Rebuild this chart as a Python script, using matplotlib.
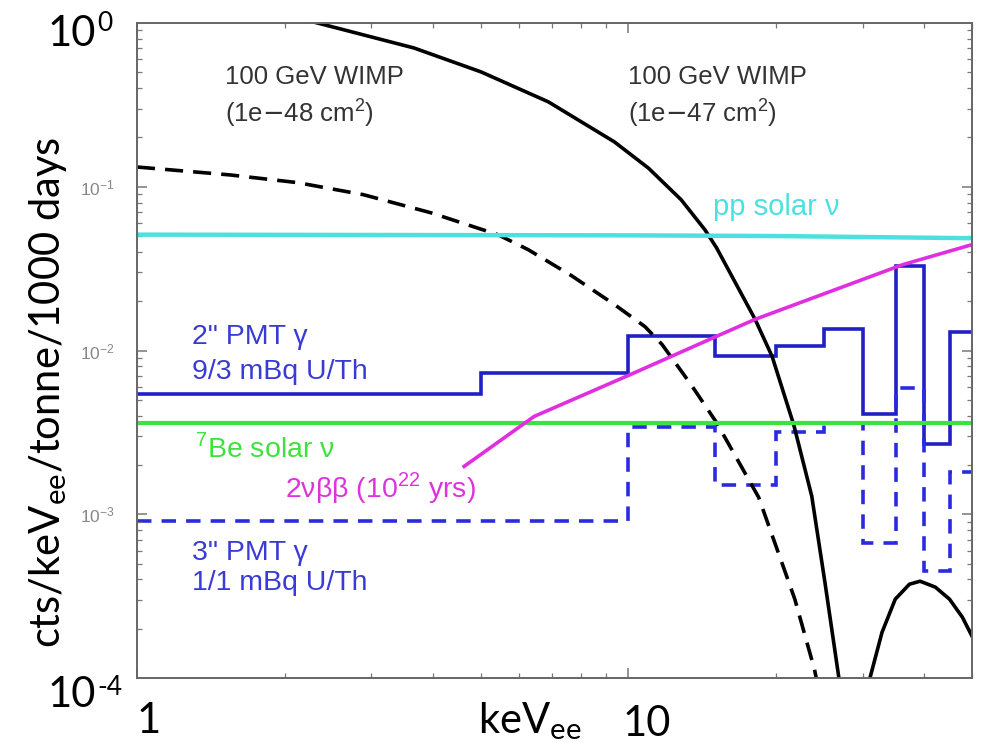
import matplotlib
matplotlib.use("Agg")
import matplotlib.pyplot as plt
from matplotlib.ticker import LogLocator, NullFormatter, FixedLocator, FixedFormatter

# PMT gamma backgrounds, 5 keV bins
bin_edges = [1, 5, 10, 15, 20, 25, 30, 35, 40, 45, 50]
pmt2_rate = [0.0054, 0.0073, 0.0122, 0.0092, 0.0107, 0.0136, 0.0041, 0.033, 0.0027, 0.0129]
pmt3_rate = [0.00091, 0.00091, 0.0034, 0.0015, 0.0032, 0.0036, 0.00067, 0.0059, 0.00045, 0.0018]

# 100 GeV WIMP, 1e-47 cm2 (first lobe and second lobe of the form factor)
wimp47_e = [2.0, 2.33, 3.66, 5.01, 6.87, 9.36, 10.98, 12.8, 14.3, 15.1, 18.1, 19.6, 21.7, 23.6, 25.1, 26.8, 27.3]
wimp47_r = [1.12, 1.0, 0.704, 0.503, 0.330, 0.188, 0.130, 0.0833, 0.0547, 0.0425, 0.0155, 0.0092, 0.0035, 0.00129, 0.000385, 0.0001, 0.00007]
wimp47b_e = [30.6, 31.0, 32.8, 34.9, 37.3, 39.2, 42.1, 45.0, 47.8, 50.0]
wimp47b_r = [0.00007, 0.0001, 0.00019, 0.000303, 0.000374, 0.00039, 0.000359, 0.000303, 0.000235, 0.00018]

# 100 GeV WIMP, 1e-48 cm2
wimp48_e = [1.0, 1.55, 2.12, 2.89, 3.96, 5.43, 6.25, 7.65, 9.36, 10.8, 11.7, 13.4, 15.1, 18.4, 21.8, 23.9, 24.6]
wimp48_r = [0.132, 0.118, 0.106, 0.0894, 0.0694, 0.0509, 0.0413, 0.0287, 0.0191, 0.0140, 0.0109, 0.0062, 0.00364, 0.00127, 0.000303, 0.000113, 0.000074]

# solar neutrinos
pp_e = [1, 10, 20, 50]
pp_r = [0.051, 0.0505, 0.050, 0.0485]
be7_e = [1, 50]
be7_r = [0.0036, 0.0036]

# 2vbb, T1/2 = 1e22 yr
bb_e = [4.63, 6.43, 10.1, 15.1, 18.1, 36.1, 50.0]
bb_r = [0.00196, 0.00396, 0.00714, 0.0122, 0.0155, 0.0334, 0.0443]

W, H, DPI = 988, 749, 100
fig = plt.figure(figsize=(W / DPI, H / DPI), dpi=DPI)
ax = fig.add_axes([137 / W, 1 - 678 / H, 835 / W, 655 / H])

blue = '#2020c4'
lw = 2.6
ax.plot(wimp47_e, wimp47_r, color='black', lw=lw)
ax.plot(wimp47b_e, wimp47b_r, color='black', lw=lw)
ax.plot(wimp48_e, wimp48_r, color='black', lw=lw, dashes=(5, 2.8))
ax.plot(pp_e, pp_r, color='#4ee0e0', lw=3.2)
ax.plot(be7_e, be7_r, color='#3ee23e', lw=3.0)
ax.stairs(pmt2_rate, bin_edges, color=blue, lw=lw, baseline=None)
ax.stairs(pmt3_rate, bin_edges, color='#2a2ae0', lw=lw, baseline=None, linestyle=(0, (4, 2.8)))
ax.plot(bb_e, bb_r, color='#e02ee0', lw=2.6)

ax.set_xscale('log')
ax.set_yscale('log')
ax.set_xlim(1, 50)
ax.set_ylim(1e-4, 1)

# small tick labels on y only; big labels drawn separately
ax.yaxis.set_major_locator(FixedLocator([1e-3, 1e-2, 1e-1]))
ax.yaxis.set_major_formatter(FixedFormatter([r'$\mathregular{10^{-3}}$', r'$\mathregular{10^{-2}}$',
                                             r'$\mathregular{10^{-1}}$']))
ax.yaxis.set_minor_locator(LogLocator(base=10, subs=range(2, 10)))
ax.yaxis.set_minor_formatter(NullFormatter())
ax.xaxis.set_major_locator(FixedLocator([1, 10]))
ax.xaxis.set_major_formatter(NullFormatter())
ax.xaxis.set_minor_locator(LogLocator(base=10, subs=range(2, 10)))
ax.xaxis.set_minor_formatter(NullFormatter())

ax.tick_params(which='both', direction='in', top=True, right=True, color='#777777')
ax.tick_params(which='major', length=7, width=1.1, pad=16, labelsize=12.5, labelcolor='#888888')
ax.tick_params(which='minor', length=3.5, width=0.9)
for s in ax.spines.values():
    s.set_color('#666666')
    s.set_linewidth(1.4)
for lab in ax.get_yticklabels():
    lab.set_family('Liberation Sans')


def fx(px):
    return (px - 137) / 835


def fy(py):
    return (678 - py) / 655


lab_kw = dict(transform=ax.transAxes, family='Liberation Sans', va='center', ha='left')
gray = '#333333'
pmt_blue = '#3a3ad6'
ax.text(fx(225), fy(77), '100 GeV WIMP', color=gray, fontsize=18.5, **lab_kw)
ax.text(fx(225), fy(113), r'(1e$-$48 cm$^{\mathregular{2}}$)', color=gray, fontsize=18.5, **lab_kw)
ax.text(fx(628), fy(77), '100 GeV WIMP', color=gray, fontsize=18.5, **lab_kw)
ax.text(fx(628), fy(113), r'(1e$-$47 cm$^{\mathregular{2}}$)', color=gray, fontsize=18.5, **lab_kw)
ax.text(fx(713), fy(207), 'pp solar ν', color='#4ee0e0', fontsize=21, **lab_kw)
ax.text(fx(192), fy(337), '2" PMT γ', color=pmt_blue, fontsize=20.5, **lab_kw)
ax.text(fx(192), fy(372), '9/3 mBq U/Th', color=pmt_blue, fontsize=20.5, **lab_kw)
ax.text(fx(195), fy(448), r'$^{\mathregular{7}}$Be solar ν', color='#3ee23e', fontsize=20.5, **lab_kw)
ax.text(fx(285), fy(488), r'2νββ (10$^{\mathregular{22}}$ yrs)', color='#dd33dd', fontsize=20.5, **lab_kw)
ax.text(fx(192), fy(553), '3" PMT γ', color=pmt_blue, fontsize=20.5, **lab_kw)
ax.text(fx(192), fy(583), '1/1 mBq U/Th', color=pmt_blue, fontsize=20.5, **lab_kw)

# large axis annotations
big = dict(family='Lato', fontsize=30, color='black', va='baseline')
sup = dict(family='Lato', fontsize=19, color='black', va='baseline')
fig.text(48 / W, 1 - 46 / H, '10', ha='left', **big)
fig.text(97 / W, 1 - 31 / H, '0', ha='left', **sup)
fig.text(48 / W, 1 - 707 / H, '10', ha='left', **big)
fig.text(97 / W, 1 - 695 / H, '-4', ha='left', **sup)
fig.text(149 / W, 1 - 733 / H, '1', ha='center', **big)
fig.text(623 / W, 1 - 736 / H, '10', ha='left', **big)
fig.text(478 / W, 1 - 733 / H, r'keV$_{\mathregular{ee}}$', ha='left', **big)
fig.text(48 / W, 1 - 392 / H, r'cts/keV$_{\mathregular{ee}}$/tonne/1000 days', rotation=90,
         family='Lato', fontsize=30, color='black', ha='center', va='center')

fig.savefig('out.png', dpi=DPI, facecolor='white')
